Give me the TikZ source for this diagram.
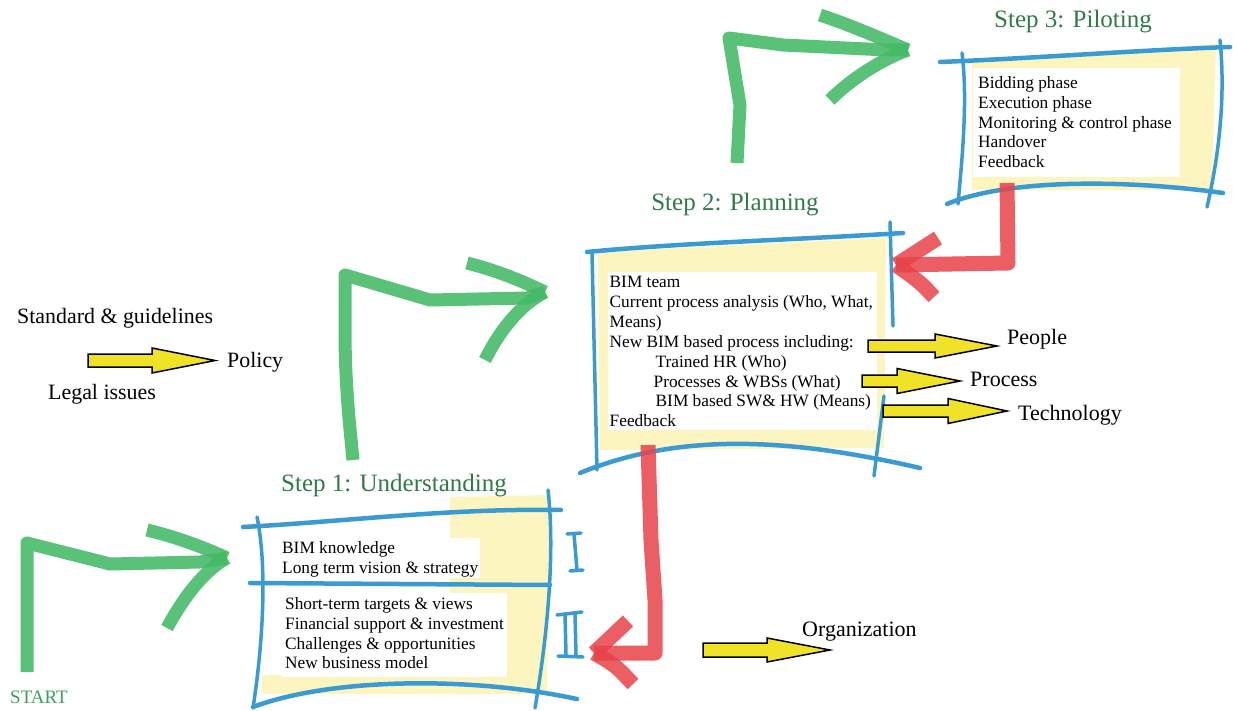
\documentclass[tikz,border=0pt]{standalone}
\usepackage{fontspec}
\setmainfont{Liberation Serif}
\definecolor{sketchblue}{RGB}{58,154,210}
\definecolor{paleyellow}{RGB}{252,245,192}
\definecolor{titlegreen}{RGB}{48,122,74}
\definecolor{startgreen}{RGB}{60,160,95}
\definecolor{arrowgreen}{RGB}{68,186,102}
\definecolor{arrowred}{RGB}{232,66,74}
\definecolor{blockyellow}{RGB}{240,226,38}
\newcommand\stepboxfont{\fontsize{17.3}{19.9}\selectfont}
\newcommand\steptitlefont{\fontsize{25}{28}\selectfont}
\newcommand\tagfont{\fontsize{21.9}{24}\selectfont}
\newcommand\sidefont{\fontsize{22}{24}\selectfont}
% block arrow: x start, y centre, x head base, x tip, half shaft, half head
\newcommand\blockarrow[6]{%
  \filldraw[yellowarrow] (#1,#2-#5) -- (#3,#2-#5) -- (#3,#2-#6) -- (#4,#2)
    -- (#3,#2+#6) -- (#3,#2+#5) -- (#1,#2+#5) -- cycle;}
\begin{document}
\begin{tikzpicture}[x=1pt,y=-1pt,
  sketchline/.style={draw=sketchblue,line width=4.5pt,line cap=round},
  sketchside/.style={draw=sketchblue,line width=3.5pt,line cap=round},
  boxtext/.style={anchor=north west,align=left,inner sep=0pt,font=\stepboxfont},
  steptitle/.style={text=titlegreen,font=\steptitlefont,anchor=base},
  tag/.style={font=\tagfont,anchor=base west,inner sep=0pt},
  sidetag/.style={font=\sidefont,anchor=base west,inner sep=0pt},
  garrow/.style={draw=arrowgreen,line width=13pt,draw opacity=0.88,line join=round},
  rarrow/.style={draw=arrowred,line width=15pt,draw opacity=0.85,line join=round},
  yellowarrow/.style={fill=blockyellow,draw=black,line width=1.5pt,line join=miter}]
\useasboundingbox (0,0) rectangle (1233,711);
\fill[white] (0,0) rectangle (1233,711);

% ---------- pale highlighter behind the three boxes ----------
\fill[paleyellow] (450,497) -- (550,495) -- (547,694) -- (450,694) -- cycle;
\fill[paleyellow] (262,675) -- (545,675) -- (545,694) -- (262,694) -- cycle;
\fill[paleyellow] (598,252) -- (886,238) -- (884,448) -- (600,450) -- cycle;
\fill[paleyellow] (972,62) -- (1216,44) -- (1212,190) -- (972,190) -- cycle;

% ---------- white panels under the texts ----------
\fill[white] (278,538) rectangle (480,578);
\fill[white] (282,593) rectangle (507,677);
\fill[white] (608,272) rectangle (877,430);
\fill[white] (973,68) rectangle (1180,177);

% ---------- box texts ----------
\node[boxtext] (u1) at (282,541)
  {BIM knowledge\\Long term vision \& strategy};
\node[boxtext] (u2) at (285,597)
  {Short-term targets \& views\\Financial support \& investment\\Challenges \& opportunities\\New business model};
\node[boxtext] (p1) at (609.5,276)
  {BIM team\\Current process analysis (Who, What,\\Means)\\New BIM based process including:\\
   \hspace*{46pt}Trained HR (Who)\\\hspace*{44pt}Processes \& WBSs (What)\\
   \hspace*{46pt}BIM based SW\& HW (Means)\\Feedback};
\node[boxtext] (t1) at (978,76)
  {Bidding phase\\Execution phase\\Monitoring \& control phase\\Handover\\Feedback};

% ---------- sketched frames ----------
% Step 1
\draw[sketchline] (243,527) .. controls (340,522) and (450,508) .. (561,510);
\draw[sketchline] (250,583) -- (550,585);
\draw[sketchline] (253,707) .. controls (330,678) and (470,676) .. (577,699);
\draw[sketchside] (257,517) .. controls (268,570) and (262,650) .. (253,708);
\draw[sketchside] (548,490) .. controls (556,560) and (545,650) .. (535,708);
% Step 2
\draw[sketchline] (587,252) .. controls (680,243) and (790,240) .. (903,233);
\draw[sketchside] (592,253) -- (597,470);
\draw[sketchline] (580,473) .. controls (680,432) and (790,438) .. (920,468);
\draw[sketchside] (890,222) -- (893,326);
\draw[sketchside] (884,396) -- (874,476);
% Step 3
\draw[sketchline] (940,62) .. controls (1040,58) and (1140,50) .. (1230,47);
\draw[sketchside] (962,53) .. controls (968,100) and (962,160) .. (958,204);
\draw[sketchline] (947,204) .. controls (1010,178) and (1130,180) .. (1223,193);
\draw[sketchside] (1220,40) .. controls (1226,100) and (1218,160) .. (1207,207);

% ---------- roman numerals beside step 1 ----------
\draw[sketchside] (567,534) -- (581,533);
\draw[sketchside] (574,534) -- (577,570);
\draw[sketchside] (570,571) -- (583,570);
\draw[sketchside] (557,615) -- (582,612);
\draw[sketchside] (565,614) -- (566,655);
\draw[sketchside] (575,613) -- (576,655);
\draw[sketchside] (558,656) -- (583,657);

% ---------- step titles and labels ----------
\node[steptitle] (s1) at (394,491) {Step 1: Understanding};
\node[steptitle] (s2) at (735,211) {Step 2: Planning};
\node[steptitle] (s3) at (1073,28) {Step 3: Piloting};
\node[font=\fontsize{19}{22}\selectfont,text=startgreen,anchor=base west,inner sep=0pt] (start) at (10,703) {START};
\node[tag] (std) at (17,323) {Standard \& guidelines};
\node[tag] (policy) at (227,367) {Policy};
\node[tag] (legal) at (48,399) {Legal issues};
\node[sidetag] (people) at (1007,344) {People};
\node[sidetag] (process) at (970,386) {Process};
\node[sidetag] (tech) at (1018,420) {Technology};
\node[sidetag] (org) at (802,636) {Organization};

% ---------- yellow block arrows ----------
\blockarrow{88}{360.5}{152}{215}{6.5}{12.5}
\blockarrow{868}{346}{935}{997}{6}{12}
\blockarrow{862}{381}{897}{960}{6}{12.5}
\blockarrow{883}{411}{948}{1007}{6}{12.5}
\blockarrow{703}{650}{767}{830}{7}{12}

% ---------- green step arrows ----------
\coordinate (ga) at (227,558);
\draw[garrow] (27,672) -- (27,543) -- (110,564) -- (200,562) -- (ga);
\draw[garrow] (147,530) .. controls (180,538) and (205,548) .. (ga);
\draw[garrow] (167,628) .. controls (185,595) and (205,570) .. (ga);

\coordinate (gb) at (545,292);
\draw[garrow] (353,460) .. controls (349,420) and (345,380) .. (345,330) -- (345,275)
  -- (430,300) -- (527,298) -- (gb);
\draw[garrow] (467,263) .. controls (495,270) and (520,280) .. (gb);
\draw[garrow] (485,360) .. controls (500,330) and (520,305) .. (gb);

\coordinate (gc) at (908,50);
\draw[garrow] (737,163) -- (740,105) -- (729,38) -- (783,45) -- (887,50) -- (gc);
\draw[garrow] (820,15) .. controls (850,25) and (880,38) .. (gc);
\draw[garrow] (830,100) .. controls (850,80) and (880,60) .. (gc);

% ---------- red feedback arrows ----------
\coordinate (ra) at (896,265);
\draw[rarrow] (1007,183) -- (1008,263) -- (ra);
\draw[rarrow] (938,238) -- (ra);
\draw[rarrow] (934,297) .. controls (920,282) .. (ra);

\coordinate (rb) at (594,653);
\draw[rarrow] (648,445) -- (651,540) -- (655,600) -- (655,653) -- (rb);
\draw[rarrow] (628,621) -- (rb);
\draw[rarrow] (633,684) .. controls (615,665) .. (rb);
\end{tikzpicture}
\end{document}
